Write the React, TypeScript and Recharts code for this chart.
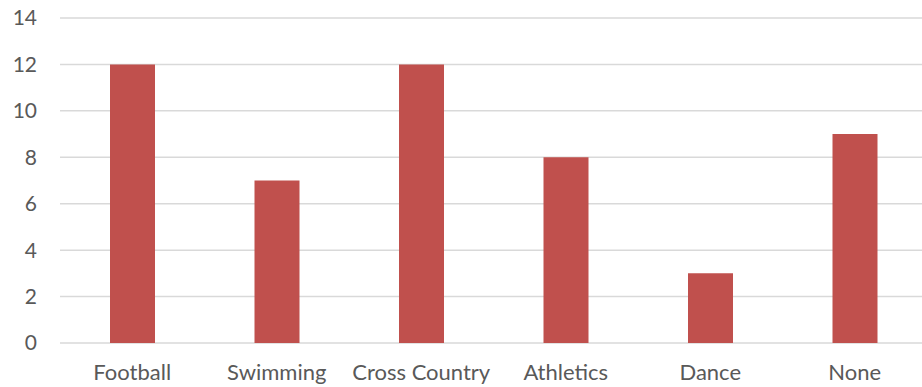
import { BarChart, Bar, XAxis, YAxis, CartesianGrid } from "recharts";

const sports = ["Football", "Swimming", "Cross Country", "Athletics", "Dance", "None"];
const counts = [12, 7, 12, 8, 3, 9];
const yTicks = [0, 2, 4, 6, 8, 10, 12, 14];

const data = sports.map((name, i) => ({ name, count: counts[i] }));

const FONT = "Lato, 'Open Sans', sans-serif";

export default function App() {
  return (
    <div
      style={{
        position: "absolute",
        top: 0,
        left: 0,
        width: 922,
        height: 387,
        overflow: "hidden",
        background: "#fff",
      }}
    >
      <BarChart
        width={927}
        height={387}
        data={data}
        margin={{ top: 18, right: 0, bottom: 0, left: 0 }}
      >
        <CartesianGrid vertical={false} stroke="#D9D9D9" strokeWidth={1.5} />
        <XAxis
          dataKey="name"
          axisLine={false}
          tickLine={false}
          height={44}
          tickMargin={15}
          interval={0}
          tick={{ fill: "#595959", fontSize: 22, fontFamily: FONT }}
        />
        <YAxis
          domain={[0, 14]}
          ticks={yTicks}
          width={60}
          axisLine={false}
          tickLine={false}
          tickMargin={17}
          tick={{ fill: "#595959", fontSize: 21, fontFamily: FONT }}
        />
        <Bar dataKey="count" fill="#C0504D" barSize={45} isAnimationActive={false} />
      </BarChart>
    </div>
  );
}
